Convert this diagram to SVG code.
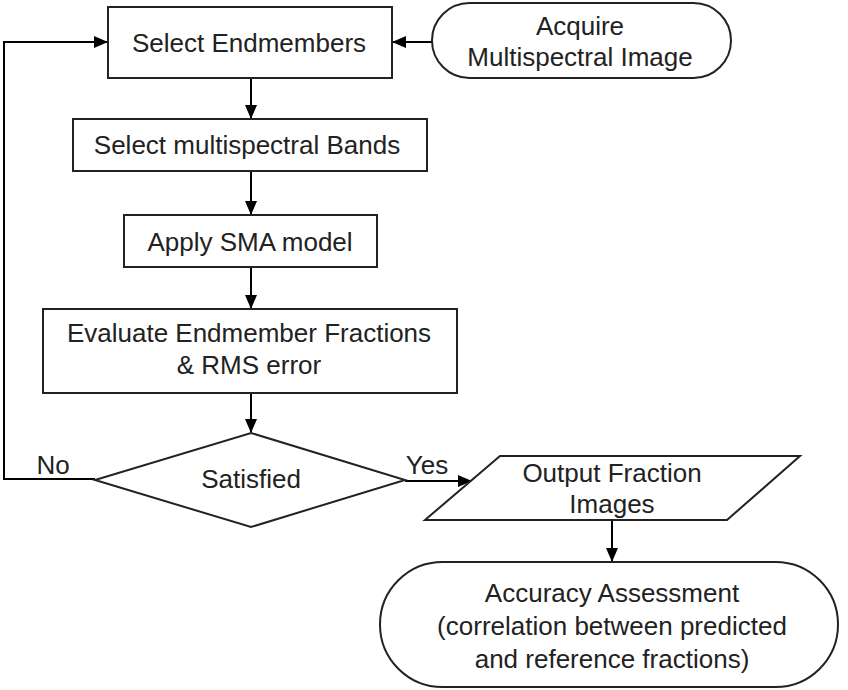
<svg xmlns="http://www.w3.org/2000/svg" width="848" height="690" viewBox="0 0 848 690">
<defs>
<marker id="ah" markerWidth="14" markerHeight="14" refX="13" refY="7" orient="auto" markerUnits="userSpaceOnUse">
<path d="M0,1 L14,7 L0,13 Z" fill="#000"/>
</marker>
<style>
.s{fill:#fff;stroke:#222;stroke-width:2}
.t{font-family:"Liberation Sans",Arial,sans-serif;font-size:26px;fill:#222;text-anchor:middle}
.c{fill:none;stroke:#000;stroke-width:2}
</style>
</defs>
<rect width="848" height="690" fill="#fff"/>
<g id="connectors">
<path class="c" d="M432,42 L393,42" marker-end="url(#ah)"/>
<path class="c" d="M251,78 L251,118" marker-end="url(#ah)"/>
<path class="c" d="M251,171 L251,214" marker-end="url(#ah)"/>
<path class="c" d="M251,267 L251,308" marker-end="url(#ah)"/>
<path class="c" d="M251,393 L251,432" marker-end="url(#ah)"/>
<path class="c" d="M95,479 L4,479 L4,42 L107,42" marker-end="url(#ah)"/>
<path class="c" d="M405,481 L471,481" marker-end="url(#ah)"/>
<path class="c" d="M612,520 L612,561" marker-end="url(#ah)"/>
<text class="t" x="53" y="474">No</text>
<text class="t" x="427" y="474">Yes</text>
</g>
<g id="acquire">
<rect class="s" x="432" y="3" width="299" height="75" rx="37.5"/>
<text class="t" x="580" y="35">Acquire</text>
<text class="t" x="580" y="66">Multispectral Image</text>
</g>
<g id="select-endmembers">
<rect class="s" x="108" y="7" width="284" height="71"/>
<text class="t" x="249" y="52">Select Endmembers</text>
</g>
<g id="select-bands">
<rect class="s" x="73" y="119" width="354" height="52"/>
<text class="t" x="247" y="154">Select multispectral Bands</text>
</g>
<g id="apply-sma">
<rect class="s" x="124" y="215" width="253" height="52"/>
<text class="t" x="250" y="251">Apply SMA model</text>
</g>
<g id="evaluate">
<rect class="s" x="43" y="309" width="414" height="84"/>
<text class="t" x="249" y="342">Evaluate Endmember Fractions</text>
<text class="t" x="249" y="374">&amp; RMS error</text>
</g>
<g id="satisfied">
<polygon class="s" points="251,433 405,480 251,527 95,480"/>
<text class="t" x="251" y="488">Satisfied</text>
</g>
<g id="output">
<polygon class="s" points="500,456 800,456 727,520 425,520"/>
<text class="t" x="612" y="482">Output Fraction</text>
<text class="t" x="612" y="513">Images</text>
</g>
<g id="accuracy">
<rect class="s" x="380" y="562" width="458" height="125" rx="62.5"/>
<text class="t" x="612" y="602">Accuracy Assessment</text>
<text class="t" x="612" y="635">(correlation between predicted</text>
<text class="t" x="612" y="668">and reference fractions)</text>
</g>
</svg>
